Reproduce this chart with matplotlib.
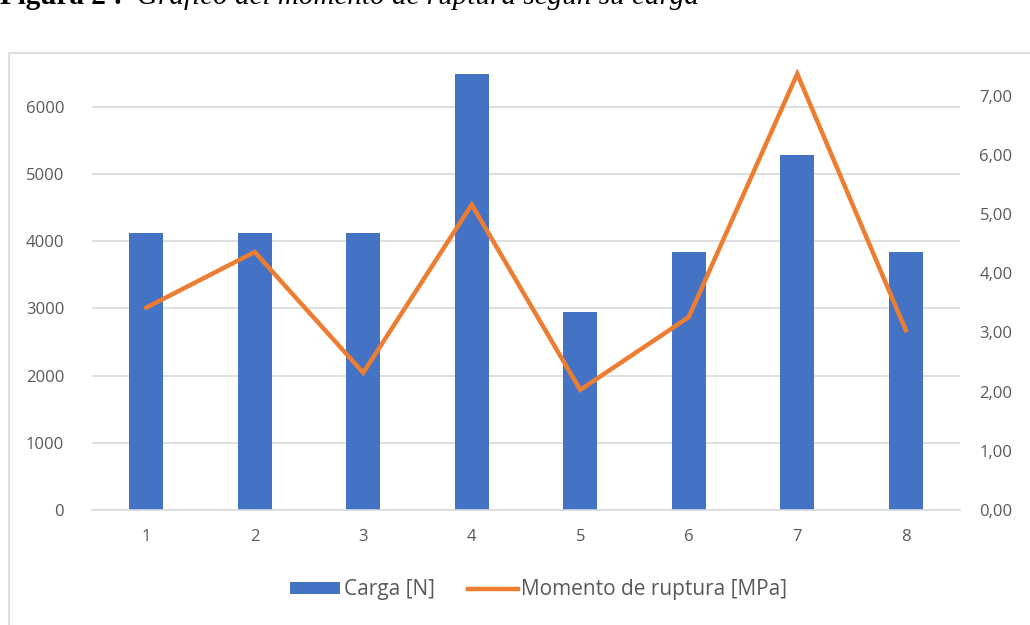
import matplotlib.pyplot as plt
from matplotlib.patches import Rectangle
from matplotlib.ticker import FuncFormatter

# data
ensayos = [1, 2, 3, 4, 5, 6, 7, 8]
carga = [4120, 4120, 4120, 6490, 2950, 3840, 5285, 3840]
momento = [3.42, 4.36, 2.32, 5.16, 2.03, 3.26, 7.37, 3.04]

azul = '#4472C4'
naranja = '#ED7D31'
gris_texto = '#595959'
gris_linea = '#D9D9D9'

plt.rcParams['font.family'] = ['Open Sans', 'DejaVu Sans']

fig = plt.figure(figsize=(10.3, 6.25), dpi=100)

# chart area border (light grey, partly cut by the crop)
fig.patches.append(Rectangle((9 / 1030, -0.1), 1.2, (625 - 53) / 625 + 0.1,
                             transform=fig.transFigure, fill=False,
                             edgecolor=gris_linea, linewidth=1.2))

# caption, cut off at the top
y_cap = 1 - 4 / 625
fig.text(0.0, y_cap, 'Figura 2 :', fontsize=21, fontweight='bold',
         family='Liberation Serif', va='baseline', ha='left')
fig.text(0.133, y_cap, 'Gráfico del momento de ruptura según su carga',
         fontsize=21, style='italic', family='Liberation Serif', va='baseline', ha='left')

ax = fig.add_axes([92 / 1030, 115 / 625, (960 - 92) / 1030, (510 - 65) / 625])
ax.bar(ensayos, carga, width=0.31, color=azul, label='Carga [N]', zorder=2)
ax.set_xlim(0.5, 8.5)
ax.set_ylim(0, 6625)
ax.set_yticks(range(0, 7000, 1000))
ax.set_xticks(ensayos)
ax.yaxis.grid(True, color=gris_linea, linewidth=1.2, zorder=0)
ax.set_axisbelow(True)
for s in ['top', 'right', 'left']:
    ax.spines[s].set_visible(False)
ax.spines['bottom'].set_color(gris_linea)
ax.spines['bottom'].set_linewidth(1.2)
ax.tick_params(axis='both', length=0, colors=gris_texto, labelsize=12)
ax.tick_params(axis='y', pad=20)
ax.tick_params(axis='x', pad=14)

ax2 = ax.twinx()
ax2.plot(ensayos, momento, color=naranja, linewidth=3.2,
         solid_joinstyle='miter', label='Momento de ruptura [MPa]', zorder=3)
ax2.set_ylim(0, 7.52)
ax2.set_yticks(range(0, 8))
ax2.yaxis.set_major_formatter(FuncFormatter(lambda v, p: f'{v:.2f}'.replace('.', ',')))
for s in ['top', 'right', 'left', 'bottom']:
    ax2.spines[s].set_visible(False)
ax2.tick_params(axis='y', length=0, colors=gris_texto, labelsize=12, pad=14)

h1, l1 = ax.get_legend_handles_labels()
h2, l2 = ax2.get_legend_handles_labels()
fig.legend(h1 + h2, l1 + l2, loc='center', bbox_to_anchor=(0.523, 1 - 590 / 625),
           ncol=2, frameon=False, fontsize=15, labelcolor=gris_texto,
           handlelength=2.4, handleheight=0.45, handletextpad=0.15, columnspacing=1.6)

fig.savefig('out.png', dpi=100)
